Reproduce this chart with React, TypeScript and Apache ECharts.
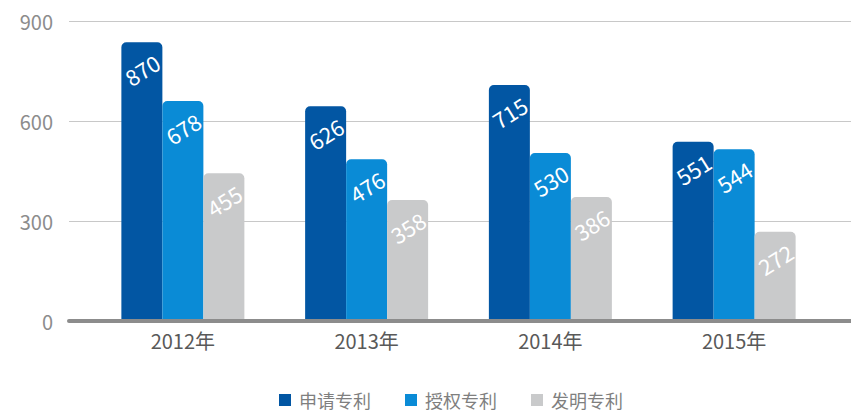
import React, { useEffect, useRef } from "react";
import * as echarts from "echarts";

const categories = ["2012年", "2013年", "2014年", "2015年"];
const seriesNames = ["申请专利", "授权专利", "发明专利"];
// bar heights as drawn in the picture
const applyHeights = [836, 644, 708, 538];
const grantHeights = [660, 485, 504, 515];
const inventHeights = [443, 363, 372, 268];
// printed labels on the bars
const applyLabels = [870, 626, 715, 551];
const grantLabels = [678, 476, 530, 544];
const inventLabels = [455, 358, 386, 272];
const yTicks = [0, 300, 600, 900];
const colors = ["#0256a3", "#0a8bd6", "#c9cacb"];

export default function App() {
  const ref = useRef<HTMLDivElement>(null);
  useEffect(() => {
    document.body.style.margin = "0";
    const chart = echarts.init(ref.current!, null, { renderer: "svg" });
    const font = "'Noto Sans CJK SC', 'Noto Sans', sans-serif";
    const mk = (i: number, heights: number[], labels: number[]) => ({
      name: seriesNames[i],
      type: "bar",
      xAxisIndex: 1,
      yAxisIndex: 1,
      barWidth: 41,
      barGap: "0%",
      data: heights,
      itemStyle: { color: colors[i], borderRadius: [5, 5, 0, 0] },
      label: {
        show: true,
        position: ["50%", 27],
        align: "center",
        verticalAlign: "middle",
        rotate: 32,
        color: "#ffffff",
        fontSize: 22,
        fontFamily: font,
        formatter: (p: any) => String(labels[p.dataIndex]),
      },
    });
    chart.setOption({
      animation: false,
      grid: [
        { left: 69, right: 0, top: 21, height: 300 },
        { left: 91, right: 25, top: 21, height: 300 },
      ],
      legend: {
        left: 279,
        top: 391,
        padding: 0,
        itemWidth: 12,
        itemHeight: 12,
        itemGap: 34,
        icon: "rect",
        data: seriesNames,
        textStyle: { color: "#7f7f7f", fontSize: 18, fontFamily: font, padding: [0, 0, 0, 3] },
      },
      xAxis: [
        {
          gridIndex: 0,
          type: "category",
          data: categories,
          z: 5,
          axisLine: { show: true, lineStyle: { color: "#8c8c8c", width: 4 } },
          axisTick: { show: false },
          axisLabel: { show: false },
        },
        {
          gridIndex: 1,
          type: "category",
          data: categories,
          axisLine: { show: false },
          axisTick: { show: false },
          axisLabel: { color: "#595959", fontSize: 20, fontFamily: font, margin: 9 },
        },
      ],
      yAxis: [
        {
          gridIndex: 0,
          type: "value",
          min: yTicks[0],
          max: yTicks[yTicks.length - 1],
          interval: yTicks[1] - yTicks[0],
          axisLine: { show: false },
          axisTick: { show: false },
          axisLabel: { color: "#8c8c8c", fontSize: 20, fontFamily: font, margin: 16 },
          splitLine: { lineStyle: { color: "#c8c8c8", width: 1 } },
        },
        {
          gridIndex: 1,
          type: "value",
          min: yTicks[0],
          max: yTicks[yTicks.length - 1],
          show: false,
          splitLine: { show: false },
        },
      ],
      series: [
        mk(0, applyHeights, applyLabels),
        mk(1, grantHeights, grantLabels),
        mk(2, inventHeights, inventLabels),
      ],
    });
    return () => chart.dispose();
  }, []);
  return <div ref={ref} style={{ width: 851, height: 414 }} />;
}
